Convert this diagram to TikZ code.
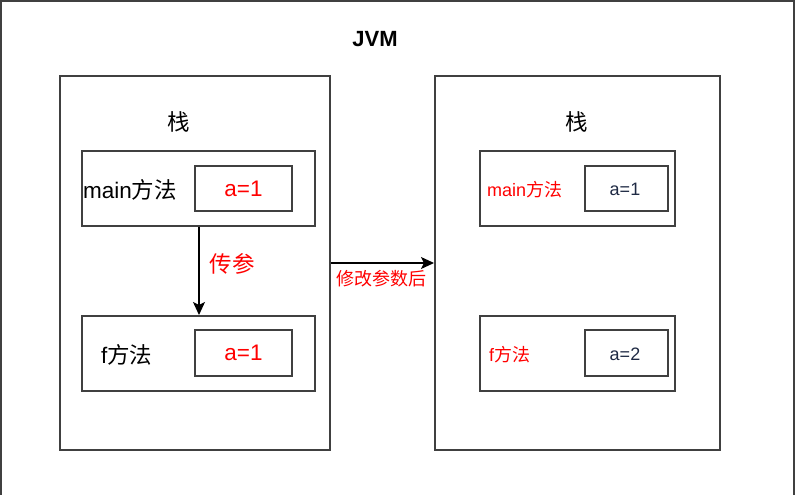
\documentclass[tikz,border=0pt]{standalone}
\usepackage{fontspec}
\setmainfont{Liberation Sans}
\newfontfamily\cjk{Noto Sans CJK SC}
\usetikzlibrary{arrows.meta}
\definecolor{edge}{HTML}{404040}
\definecolor{redtxt}{HTML}{FF0000}
\definecolor{navy}{HTML}{1F2A44}
\begin{document}
\begin{tikzpicture}[x=1pt,y=-1pt,
  box/.style={draw=edge,line width=2pt,rectangle,inner sep=0pt},
  lbl/.style={inner sep=0pt,font=\fontsize{22.5}{25}\selectfont},
  small/.style={inner sep=0pt,font=\fontsize{18}{20}\selectfont},
  conn/.style={draw=black,line width=1.2pt,-{Stealth[length=13pt,width=12pt,inset=3pt]}}]
\useasboundingbox (0,0) rectangle (798,495);
\draw[edge,line width=2pt] (1,520) -- (1,1) -- (794,1) -- (794,520);
\node[inner sep=0pt,font=\fontsize{22}{24}\selectfont\bfseries] (jvm) at (375,39) {JVM};
% left stack
\node[box,minimum width=270pt,minimum height=374pt] (ls) at (195,263) {};
\node[lbl] (lst) at (179,122) {\cjk 栈};
\node[box,minimum width=233pt,minimum height=75pt] (lm) at (198.5,188.5) {};
\node[lbl,anchor=west] (lmt) at (83,190) {main{\cjk 方法}};
\node[box,minimum width=97pt,minimum height=45pt] (lma) at (243.5,188.5) {};
\node[lbl,text=redtxt] (lmat) at (243.5,189) {a=1};
\node[box,minimum width=233pt,minimum height=75pt] (lf) at (198.5,353.5) {};
\node[lbl,anchor=west] (lft) at (101,355) {f{\cjk 方法}};
\node[box,minimum width=97pt,minimum height=46pt] (lfa) at (243.5,353) {};
\node[lbl,text=redtxt] (lfat) at (243.5,353) {a=1};
% right stack
\node[box,minimum width=285pt,minimum height=374pt] (rs) at (577.5,263) {};
\node[lbl] (rst) at (577,122) {\cjk 栈};
\node[box,minimum width=195pt,minimum height=75pt] (rm) at (577.5,188.5) {};
\node[small,anchor=west,text=redtxt] (rmt) at (487,190) {main{\cjk 方法}};
\node[box,minimum width=83pt,minimum height=45pt] (rma) at (626.5,188.5) {};
\node[small,text=navy] (rmat) at (625,189) {a=1};
\node[box,minimum width=195pt,minimum height=75pt] (rf) at (577.5,353.5) {};
\node[small,anchor=west,text=redtxt] (rft) at (489,355) {f{\cjk 方法}};
\node[box,minimum width=83pt,minimum height=46pt] (rfa) at (626.5,353) {};
\node[small,text=navy] (rfat) at (625,354) {a=2};
% connectors
\draw[conn] (199,226.5) coordinate (c1) -- (lf.north -| c1);
\node[lbl,text=redtxt] (cp) at (232,264) {\cjk 传参};
\draw[conn] (ls.east) -- (rs.west);
\node[small,text=redtxt] (xg) at (381,279) {\cjk 修改参数后};
\end{tikzpicture}
\end{document}
